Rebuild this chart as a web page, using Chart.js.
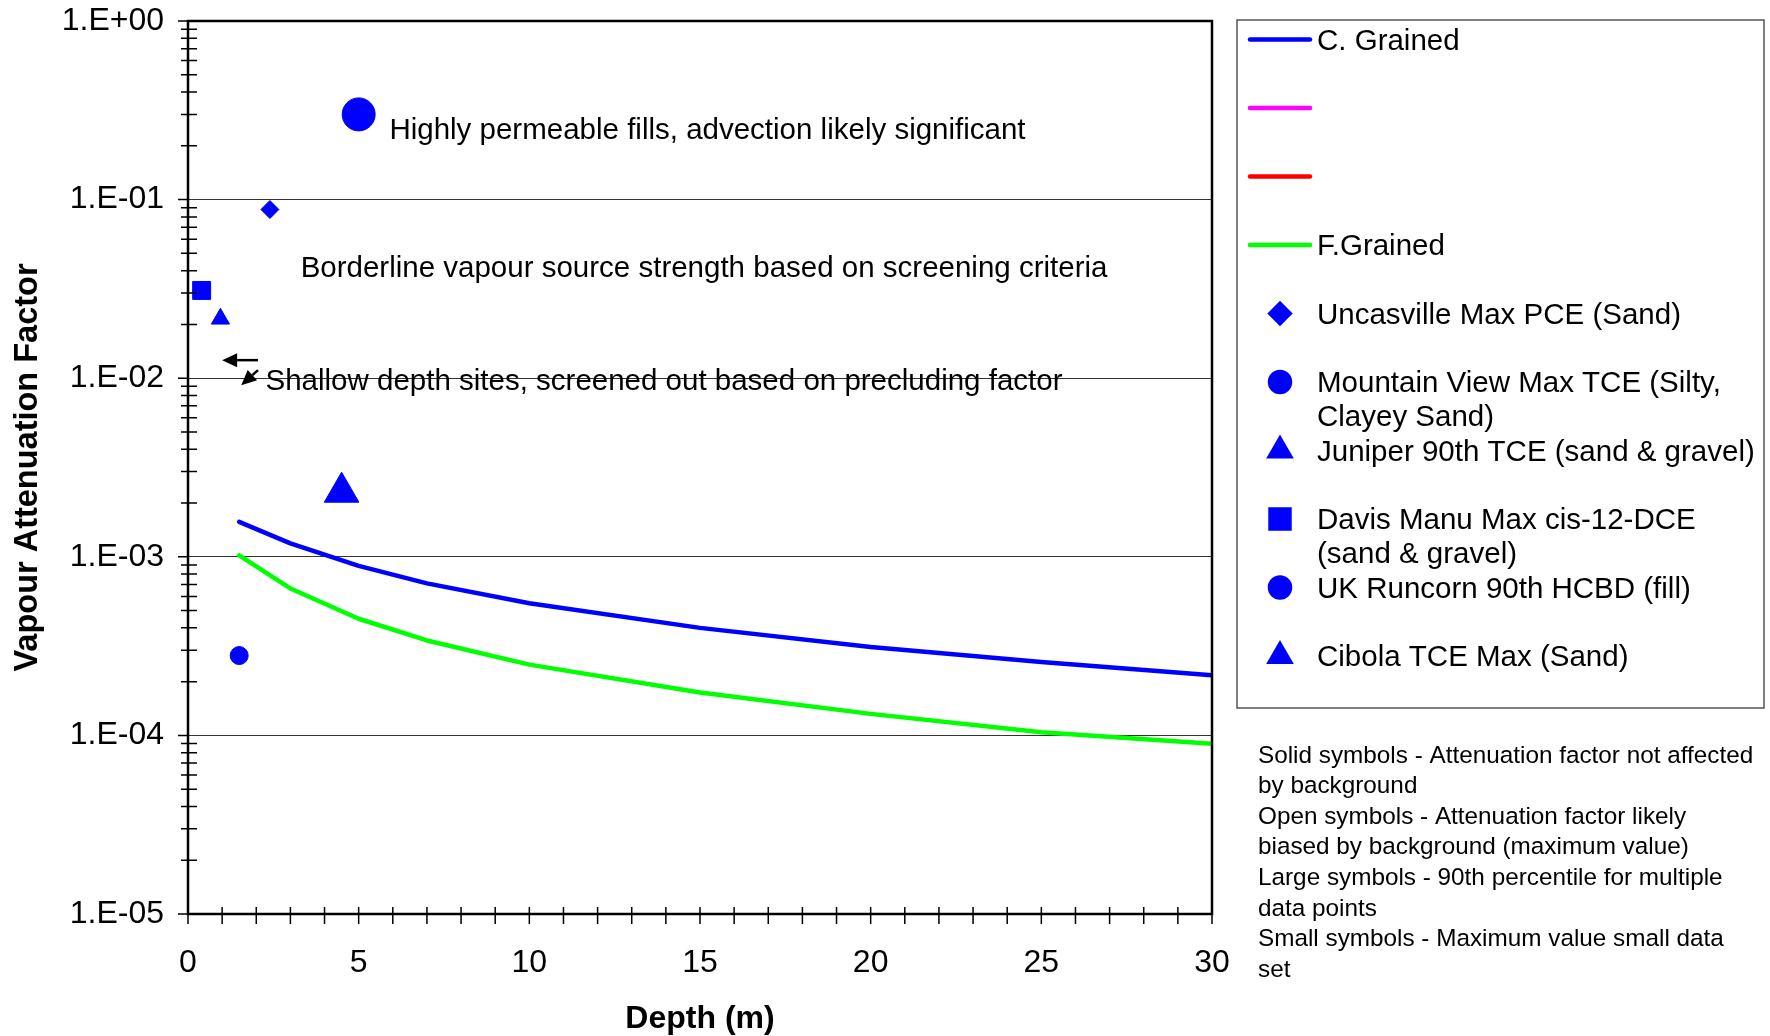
<!DOCTYPE html>
<html lang="en">
<head>
  <meta charset="UTF-8">
  <title>Vapour Attenuation Factor vs Depth</title>
  <style>
    html, body { margin: 0; padding: 0; background: #fff; }
    #wrap { width: 1770px; height: 1036px; }
  </style>
  <script src="https://cdn.jsdelivr.net/npm/chart.js@4"></script>
</head>
<body>
  <div id="wrap"><canvas id="chart" width="1770" height="1036"></canvas></div>

  <script>
    const FONT = "'Liberation Sans', Arial, sans-serif";

    // model curves (depth in m)
    const depthCurve = [1.5, 3, 5, 7, 10, 15, 20, 25, 30];
    const coarseGrained = [1.57e-3, 1.19e-3, 8.9e-4, 7.1e-4, 5.5e-4, 4.0e-4, 3.13e-4, 2.58e-4, 2.17e-4];
    const fineGrained = [1.02e-3, 6.65e-4, 4.5e-4, 3.4e-4, 2.49e-4, 1.74e-4, 1.32e-4, 1.04e-4, 8.98e-5];

    // field sites: [depth, attenuation factor]
    const uncasville = [2.4, 0.088];
    const mountainView = [1.5, 2.8e-4];
    const juniper = [4.5, 0.0023];
    const davisManu = [0.4, 0.031];
    const ukRuncorn = [5, 0.3];
    const cibola = [0.95, 0.0215];

    const yTickValues = [1, 1e-1, 1e-2, 1e-3, 1e-4, 1e-5];

    const notes = [
      'Solid symbols - Attenuation factor not affected',
      'by background',
      'Open symbols - Attenuation factor likely',
      'biased by background (maximum value)',
      'Large symbols - 90th percentile for multiple',
      'data points',
      'Small symbols - Maximum value small data',
      'set'
    ];

    // text notes on the plot, anchored in data units (left edge, middle)
    const annotations = [
      { text: 'Highly permeable fills, advection likely significant', x: 5.9, y: 0.242 },
      { text: 'Borderline vapour source strength based on screening criteria', x: 3.3, y: 0.0412 },
      { text: 'Shallow depth sites, screened out based on precluding factor', x: 2.27, y: 0.00953 }
    ];
    const arrows = [
      { from: [2.05, 0.01262], to: [1.0, 0.01262] },
      { from: [2.05, 0.0111], to: [1.56, 0.00914] }
    ];

    const BLUE = '#0000FF';

    function sci(v) {
      const e = Math.round(Math.log10(v));
      return '1.E' + (e < 0 ? '-' : '+') + String(Math.abs(e)).padStart(2, '0');
    }

    function curve(ys) {
      return depthCurve.map((d, i) => ({ x: d, y: ys[i] }));
    }

    function lineSet(label, color, data) {
      return {
        label: label, data: data, showLine: true,
        borderColor: color, backgroundColor: color, borderWidth: 4.5,
        borderCapStyle: 'round', borderJoinStyle: 'round',
        pointRadius: 0, tension: 0
      };
    }

    function siteSet(label, p, style, r) {
      return {
        label: label, data: [{ x: p[0], y: p[1] }], showLine: false,
        pointStyle: style, pointRadius: r, pointHoverRadius: r,
        backgroundColor: BLUE, borderColor: BLUE, pointBorderWidth: 1
      };
    }

    const legendRadius = { circle: 10, rectRot: 9.5, rect: 13.4, triangle: 11.5 };

    const extras = {
      id: 'extras',
      afterDraw(chart) {
        const { ctx, chartArea: a, scales: { x, y } } = chart;
        ctx.save();

        // tick marks
        ctx.strokeStyle = '#000';
        ctx.lineWidth = 1.5;
        ctx.beginPath();
        for (let d = 0; d <= 30; d++) {
          const px = x.getPixelForValue(d);
          ctx.moveTo(px, a.bottom - 7);
          ctx.lineTo(px, a.bottom + 10);
        }
        for (let e = -5; e < 0; e++) {
          for (let m = 2; m <= 9; m++) {
            const py = y.getPixelForValue(m * Math.pow(10, e));
            ctx.moveTo(a.left - 7, py);
            ctx.lineTo(a.left + 9, py);
          }
        }
        yTickValues.forEach(v => {
          const py = y.getPixelForValue(v);
          ctx.moveTo(a.left - 10, py);
          ctx.lineTo(a.left, py);
        });
        ctx.stroke();

        // frame
        ctx.lineWidth = 2.5;
        ctx.strokeRect(a.left, a.top, a.right - a.left, a.bottom - a.top);

        // annotations
        ctx.fillStyle = '#000';
        ctx.font = '29.5px ' + FONT;
        ctx.textAlign = 'left';
        ctx.textBaseline = 'middle';
        annotations.forEach(t => {
          ctx.fillText(t.text, x.getPixelForValue(t.x), y.getPixelForValue(t.y));
        });

        // arrows
        arrows.forEach(ar => {
          const x0 = x.getPixelForValue(ar.from[0]), y0 = y.getPixelForValue(ar.from[1]);
          const x1 = x.getPixelForValue(ar.to[0]), y1 = y.getPixelForValue(ar.to[1]);
          const ang = Math.atan2(y1 - y0, x1 - x0);
          const hl = 15, hw = 7;
          const bx = x1 - Math.cos(ang) * hl, by = y1 - Math.sin(ang) * hl;
          ctx.lineWidth = 2.5;
          ctx.beginPath();
          ctx.moveTo(x0, y0);
          ctx.lineTo(bx, by);
          ctx.stroke();
          ctx.beginPath();
          ctx.moveTo(x1, y1);
          ctx.lineTo(bx - Math.sin(ang) * hw, by + Math.cos(ang) * hw);
          ctx.lineTo(bx + Math.sin(ang) * hw, by - Math.cos(ang) * hw);
          ctx.closePath();
          ctx.fill();
        });

        // legend box
        const lx = 1237, ly = 20, lw = 527, lh = 688;
        ctx.strokeStyle = '#555';
        ctx.lineWidth = 1.5;
        ctx.strokeRect(lx, ly, lw, lh);
        ctx.font = '29.5px ' + FONT;
        chart.data.datasets.forEach((ds, i) => {
          const cy = ly + 19.5 + i * 68.5;
          if (ds.showLine) {
            ctx.strokeStyle = ds.borderColor;
            ctx.lineWidth = 4.5;
            ctx.lineCap = 'round';
            ctx.beginPath();
            ctx.moveTo(lx + 13, cy);
            ctx.lineTo(lx + 73, cy);
            ctx.stroke();
          } else {
            ctx.fillStyle = ds.backgroundColor;
            ctx.strokeStyle = ds.borderColor;
            Chart.helpers.drawPoint(ctx, {
              pointStyle: ds.pointStyle, rotation: 0,
              radius: legendRadius[ds.pointStyle], borderWidth: 1
            }, lx + 43, cy);
          }
          ctx.fillStyle = '#000';
          ds.label.split('\n').forEach((ln, k) => {
            ctx.fillText(ln, lx + 80, cy + 2 + k * 34);
          });
        });

        // symbol notes
        ctx.font = '24.3px ' + FONT;
        notes.forEach((ln, k) => {
          ctx.fillText(ln, 1258, 756 + k * 30.6);
        });

        ctx.restore();
      }
    };

    const chart = new Chart(document.getElementById('chart'), {
      type: 'scatter',
      data: {
        datasets: [
          lineSet('C. Grained', BLUE, curve(coarseGrained)),
          lineSet('', '#FF00FF', []),
          lineSet('', '#FF0000', []),
          lineSet('F.Grained', '#00FF00', curve(fineGrained)),
          siteSet('Uncasville Max PCE (Sand)', uncasville, 'rectRot', 9),
          siteSet('Mountain View Max TCE (Silty,\nClayey Sand)', mountainView, 'circle', 9),
          siteSet('Juniper 90th TCE (sand & gravel)', juniper, 'triangle', 20),
          siteSet('Davis Manu Max cis-12-DCE\n(sand & gravel)', davisManu, 'rect', 12.7),
          siteSet('UK Runcorn 90th HCBD (fill)', ukRuncorn, 'circle', 16.5),
          siteSet('Cibola TCE Max (Sand)', cibola, 'triangle', 10.5)
        ]
      },
      options: {
        responsive: false,
        animation: false,
        events: [],
        layout: { padding: { left: 0, top: 21, right: 558, bottom: 0 } },
        plugins: {
          legend: { display: false },
          tooltip: { enabled: false }
        },
        scales: {
          x: {
            type: 'linear',
            min: 0, max: 30,
            grid: { display: false, drawTicks: false },
            border: { display: false },
            ticks: {
              stepSize: 5, padding: 30, maxRotation: 0, color: '#000',
              font: { family: FONT, size: 32 }
            },
            title: {
              display: true, text: 'Depth (m)', color: '#000',
              font: { family: FONT, size: 32, weight: 'bold', lineHeight: 1.05 },
              padding: { top: 0, bottom: 0 }
            },
            afterFit(s) { s.height = 122; s.paddingLeft = 0; s.paddingRight = 0; }
          },
          y: {
            type: 'logarithmic',
            min: 1e-5, max: 1,
            grid: { color: '#333', lineWidth: 1, drawTicks: false },
            border: { display: false },
            afterBuildTicks(s) { s.ticks = yTickValues.map(v => ({ value: v })); },
            ticks: {
              padding: 24, color: '#000',
              font: { family: FONT, size: 32 },
              callback: v => sci(v)
            },
            title: {
              display: true, text: 'Vapour Attenuation Factor', color: '#000',
              font: { family: FONT, size: 32.5, weight: 'bold' },
              padding: { top: 9, bottom: 0 }
            },
            afterFit(s) { s.width = 188; s.paddingTop = 0; s.paddingBottom = 0; }
          }
        }
      },
      plugins: [extras]
    });
  </script>
</body>
</html>
